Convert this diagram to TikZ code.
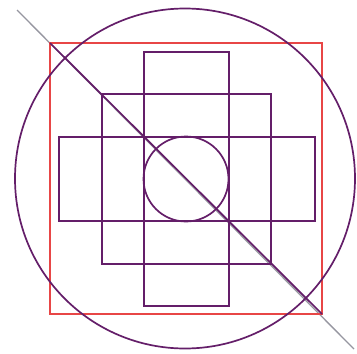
\documentclass[tikz,border=0pt]{standalone}
\definecolor{pur}{RGB}{100,30,105}
\definecolor{rd}{RGB}{232,70,70}
\definecolor{gr}{RGB}{150,150,160}
\tikzset{
  purline/.style={draw=pur, line width=1.7pt},
  redline/.style={draw=rd, line width=2.2pt},
  grayline/.style={draw=gr, line width=1.3pt}
}
\begin{document}
\begin{tikzpicture}[x=1pt,y=-1pt]
\useasboundingbox (0,0) rectangle (357,354);
\coordinate (C) at (186,179);
\coordinate (s1) at (17,10);
\coordinate (s2) at (354,349);
\draw[grayline] (s1) -- (s2);
\draw[redline] (50,43) rectangle (322,314);
\coordinate (r1) at (50,43);
\coordinate (r2) at (322,314);
\draw[purline] (r1) -- (r2);
\draw[purline] (144,52) rectangle (229,306);
\draw[purline] (102,94) rectangle (271,264);
\draw[purline] (59,137) rectangle (315,221);
\node[purline, circle, minimum size=85pt, inner sep=0pt] (sc) at (C) {};
\node[purline, circle, minimum size=340pt, inner sep=0pt] (bc) at (185,178.5) {};
\end{tikzpicture}
\end{document}
